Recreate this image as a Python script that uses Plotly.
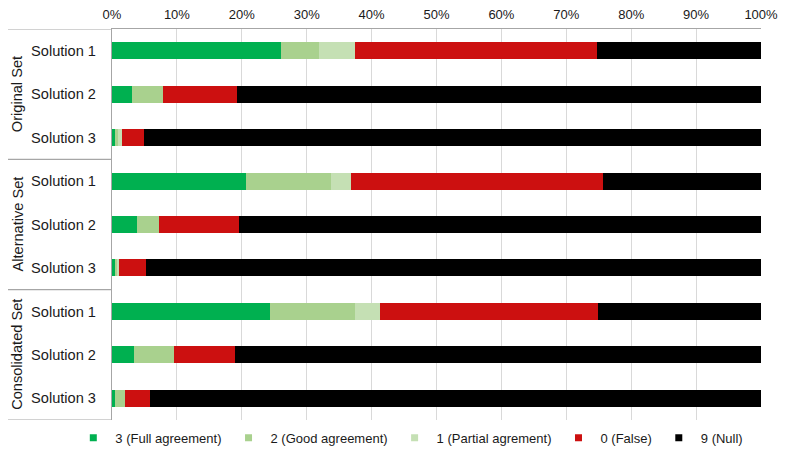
import plotly.graph_objects as go

# ---- data ----
groups = ["Original Set", "Alternative Set", "Consolidated Set"]
solutions = ["Solution 1", "Solution 2", "Solution 3"]
series_names = ["3 (Full agreement)", "2 (Good agreement)", "1 (Partial agrement)", "0 (False)", "9 (Null)"]
full_agreement = [26.1, 3.1, 0.4, 20.7, 3.8, 0.4, 24.3, 3.4, 0.5]
good_agreement = [5.8, 4.7, 0.6, 13.1, 3.4, 0.5, 13.1, 6.1, 1.5]
partial_agreement = [5.6, 0.0, 0.5, 3.1, 0.0, 0.2, 3.9, 0.0, 0.0]
false_values = [37.2, 11.5, 3.5, 38.7, 12.4, 4.1, 33.6, 9.5, 3.8]
null_values = [25.3, 80.7, 95.0, 24.4, 80.4, 94.8, 25.1, 81.0, 94.2]
x_ticks = [0, 10, 20, 30, 40, 50, 60, 70, 80, 90, 100]

colors = ["#00b050", "#a9d18e", "#c5e0b4", "#cc1010", "#000000"]
series = [full_agreement, good_agreement, partial_agreement, false_values, null_values]

row_pos = list(range(len(groups) * len(solutions)))
row_labels = solutions * len(groups)

FONT = "Liberation Sans, Arial, sans-serif"
GRID = "#d9d9d9"
LINE = "#a6a6a6"

fig = go.Figure()
for name, vals, col in zip(series_names, series, colors):
    fig.add_trace(go.Bar(
        y=row_pos, x=vals, orientation="h", name=name,
        marker=dict(color=col, line=dict(width=0)),
        showlegend=False, hoverinfo="x+name",
    ))
# legend entries with small square markers
for name, col in zip(series_names, colors):
    fig.add_trace(go.Scatter(
        x=[None], y=[None], mode="markers", name=name,
        marker=dict(symbol="square", size=7, color=col),
        showlegend=True,
    ))

# page body has an 8px margin, so the figure is drawn at (8, 8)
fig.update_layout(
    barmode="stack",
    bargap=0.61,
    width=781, height=443,
    margin=dict(l=104, r=28, t=21, b=31, autoexpand=False),
    paper_bgcolor="white", plot_bgcolor="white",
    font=dict(family=FONT, color="#1a1a1a"),
    legend=dict(
        orientation="h", traceorder="normal",
        x=-0.0627, xanchor="left", y=-0.0073, yanchor="top",
        font=dict(size=13, family=FONT, color="#1a1a1a"),
        itemwidth=34, tracegroupgap=0,
        bgcolor="rgba(0,0,0,0)",
    ),
)

fig.update_xaxes(
    side="top", range=[0, 100], tickvals=x_ticks,
    ticktext=[f"{v}%" for v in x_ticks],
    showgrid=True, gridcolor=GRID, gridwidth=1,
    showline=True, linecolor=LINE, linewidth=1.2,
    ticks="", zeroline=False, automargin=False,
    tickfont=dict(size=13, family=FONT, color="#1a1a1a"),
    ticklabelstandoff=4,
)
fig.update_yaxes(
    range=[8.5, -0.5], tickvals=row_pos, ticktext=row_labels,
    showgrid=False, zeroline=False, automargin=False,
    showline=True, linecolor=LINE, linewidth=1.2, ticks="",
    tickfont=dict(size=14.6, family=FONT, color="#1a1a1a"),
    ticklabelstandoff=12,
)

# group frame lines on the left
x_left = (3 - 112) / 649
for yb in [-0.5, 2.5, 5.5, 8.5]:
    fig.add_shape(type="line", xref="paper", yref="y",
                  x0=x_left, x1=0, y0=yb, y1=yb,
                  line=dict(color=LINE, width=1.2), layer="above")

# group labels
for gi, g in enumerate(groups):
    fig.add_annotation(
        text=g, xref="paper", yref="y",
        x=(17 - 112) / 649, y=gi * 3 + 1,
        textangle=-90, showarrow=False,
        font=dict(size=14.6, family=FONT, color="#1a1a1a"),
        xanchor="center", yanchor="middle",
    )

fig.write_html("out.html")
